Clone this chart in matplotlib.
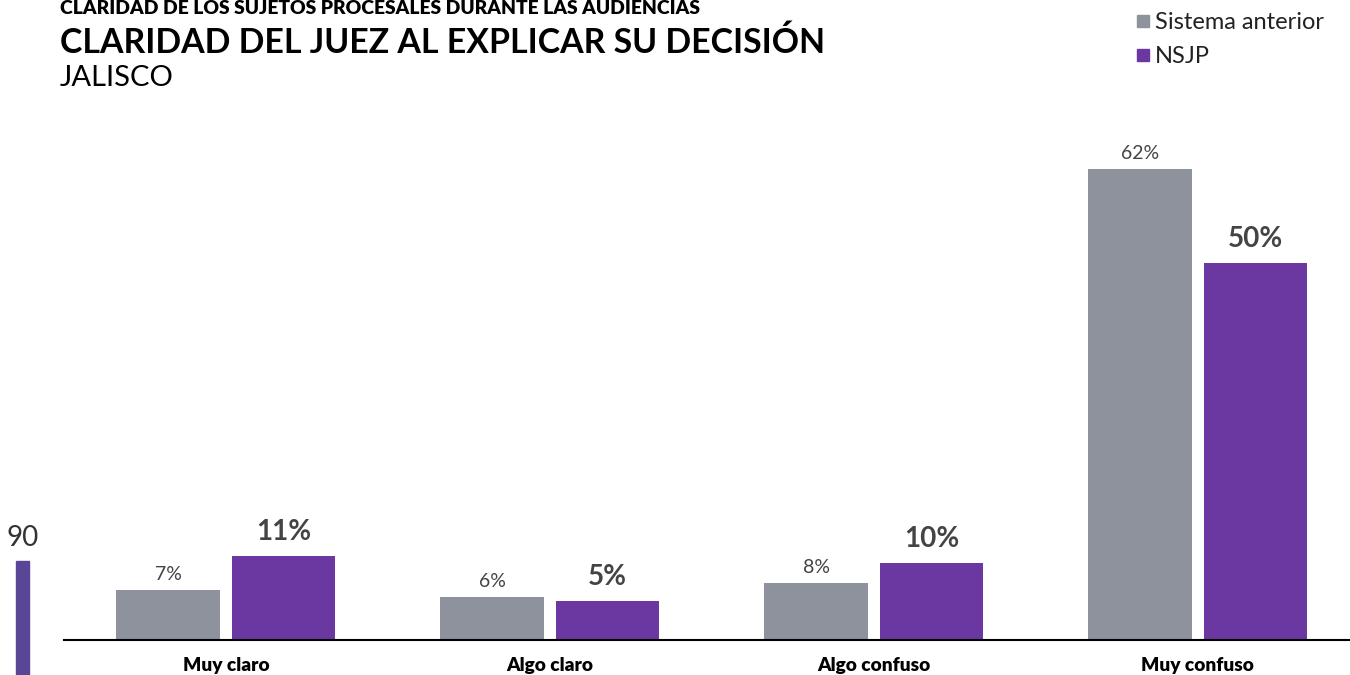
import matplotlib.pyplot as plt
from matplotlib.patches import Rectangle
import numpy as np

plt.rcParams['font.family'] = ['Lato', 'DejaVu Sans']

categories = ['Muy claro', 'Algo claro', 'Algo confuso', 'Muy confuso']
sistema_anterior = [6.6, 5.7, 7.5, 62.0]
nsjp = [11.0, 5.1, 10.1, 49.6]

GRAY = '#8e929d'
PURPLE = '#6a38a0'
W, H = 1350, 675


def fx(px):
    return px / W


def fy(py):
    return 1 - py / H


fig = plt.figure(figsize=(13.5, 6.75), dpi=100)
# axes: baseline at y=640px, left at x=64px
ax = fig.add_axes([fx(64), fy(640), fx(1286), (640 - 108) / H])

x = np.arange(len(categories))
width = 0.32
off = 0.178
b1 = ax.bar(x - off, sistema_anterior, width, color=GRAY)
b2 = ax.bar(x + off, nsjp, width, color=PURPLE)

for rect, v in zip(b1, sistema_anterior):
    ax.annotate(f"{v:.0f}%", (rect.get_x() + rect.get_width() / 2, v),
                xytext=(0, 5), textcoords='offset points', ha='center', va='bottom',
                fontsize=14, color='#444444')
for rect, v in zip(b2, nsjp):
    ax.annotate(f"{v:.0f}%", (rect.get_x() + rect.get_width() / 2, v),
                xytext=(0, 8), textcoords='offset points', ha='center', va='bottom',
                fontsize=20, fontweight='bold', color='#444444')

ax.set_xlim(-0.5, 3.47)
ax.set_ylim(0, 70)
ax.set_xticks(x)
ax.set_xticklabels(categories, fontsize=13.8, fontweight='heavy', color='black')
ax.tick_params(axis='x', length=0, pad=12)
ax.set_yticks([])
for s in ['top', 'right', 'left']:
    ax.spines[s].set_visible(False)
ax.spines['bottom'].set_linewidth(1.5)
ax.spines['bottom'].set_color('black')

# titles
fig.text(fx(60), fy(14.5), 'CLARIDAD DE LOS SUJETOS PROCESALES DURANTE LAS AUDIENCIAS',
         fontsize=13.9, fontweight='heavy', va='baseline', ha='left', color='black')
fig.text(fx(60), fy(53), 'CLARIDAD DEL JUEZ AL EXPLICAR SU DECISIÓN',
         fontsize=24.4, fontweight='bold', va='baseline', ha='left', color='black')
fig.text(fx(60), fy(86), 'JALISCO', fontsize=21, va='baseline', ha='left', color='black')

# legend
for (label, col, yc) in [('Sistema anterior', GRAY, 21), ('NSJP', PURPLE, 55)]:
    fig.patches.append(Rectangle((fx(1137), fy(yc + 6)), fx(12), 12 / H,
                                 transform=fig.transFigure, color=col))
    fig.text(fx(1155), fy(yc + 8), label, fontsize=17, va='baseline', ha='left', color='#222222')

# leftover axis fragment at bottom left
fig.text(fx(23), fy(546), '90', fontsize=20, va='baseline', ha='center', color='#333333')
fig.patches.append(Rectangle((fx(16), 0), fx(13), (675 - 561) / H,
                             transform=fig.transFigure, color='#5b4596'))

fig.savefig('out.png', dpi=100)
